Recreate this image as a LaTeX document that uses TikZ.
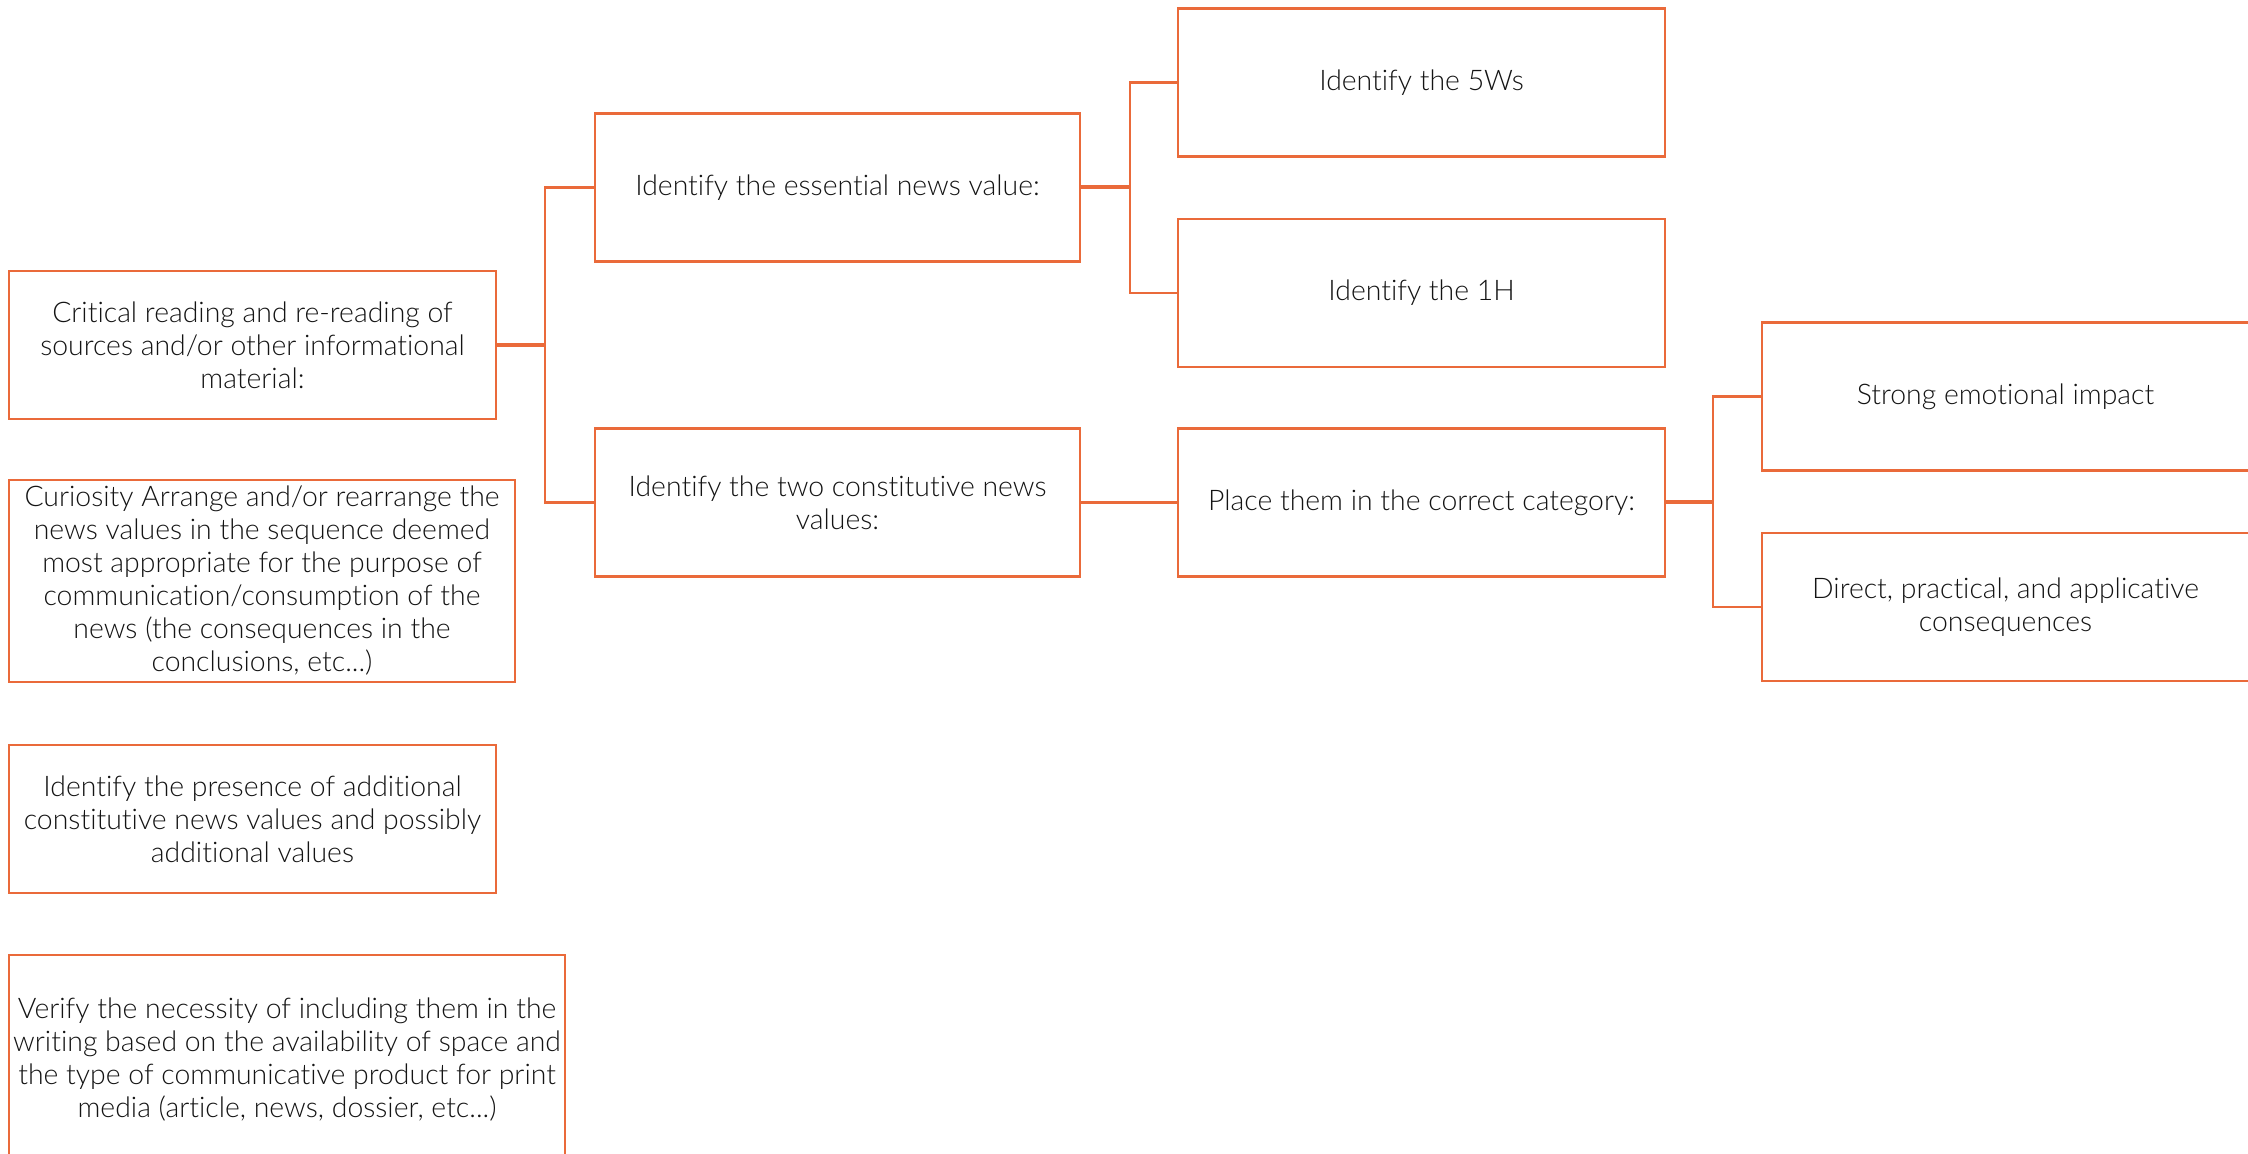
\documentclass[tikz,border=0pt]{standalone}
\usepackage{fontspec}
\setmainfont{Lato Light}[Ligatures=NoCommon]
\definecolor{orng}{RGB}{234,106,58}
\definecolor{txt}{RGB}{20,20,20}
\begin{document}
\begin{tikzpicture}[x=0.5pt,y=-0.5pt,
  box/.style={draw=orng,line width=1.25pt,fill=white,inner sep=0pt,align=center,
    text=txt,font=\fontsize{14.2}{16.5}\selectfont,minimum width=243.5pt,minimum height=74pt},
  link/.style={draw=orng,line width=1.15pt},
  stem/.style={draw=orng,line width=2pt}]
\useasboundingbox (0,0) rectangle (2248,1154);
\node[box] (A) at (252.5,345) {Critical reading and re-reading of\\sources and/or other informational\\material:};
\node[box,minimum width=253pt,minimum height=101pt] (B) at (262,581) {Curiosity Arrange and/or rearrange the\\news values in the sequence deemed\\most appropriate for the purpose of\\communication/consumption of the\\news (the consequences in the\\conclusions, etc...)};
\node[box] (C) at (252.5,819) {Identify the presence of additional\\constitutive news values and possibly\\additional values};
\node[box,minimum width=278pt,minimum height=105pt] (D) at (287,1060) {Verify the necessity of including them in the\\writing based on the availability of space and\\the type of communicative product for print\\media (article, news, dossier, etc...)};
\node[box,minimum width=242.5pt] (E) at (837.5,187.5) {Identify the essential news value:};
\node[box,minimum width=242.5pt] (F) at (837.5,502.5) {Identify the two constitutive news\\values:};
\node[box] (G) at (1421.5,82.5) {Identify the 5Ws};
\node[box] (H) at (1421.5,293) {Identify the 1H};
\node[box] (I) at (1421.5,502.5) {Place them in the correct category:};
\node[box] (J) at (2005.5,396.5) {Strong emotional impact};
\node[box] (K) at (2005.5,607) {Direct, practical, and applicative\\consequences};
\coordinate (j1) at (545,345);
\coordinate (j2) at (1130,187.5);
\coordinate (j3) at (1713,502.5);
\draw[stem] (A.east) -- (j1);
\draw[link] (j1) |- (E.west);
\draw[link] (j1) |- (F.west);
\draw[stem] (E.east) -- (j2);
\draw[link] (j2) |- (G.west);
\draw[link] (j2) |- (H.west);
\draw[link] (F.east) -- (I.west);
\draw[stem] (I.east) -- (j3);
\draw[link] (j3) |- (J.west);
\draw[link] (j3) |- (K.west);
\end{tikzpicture}
\end{document}
